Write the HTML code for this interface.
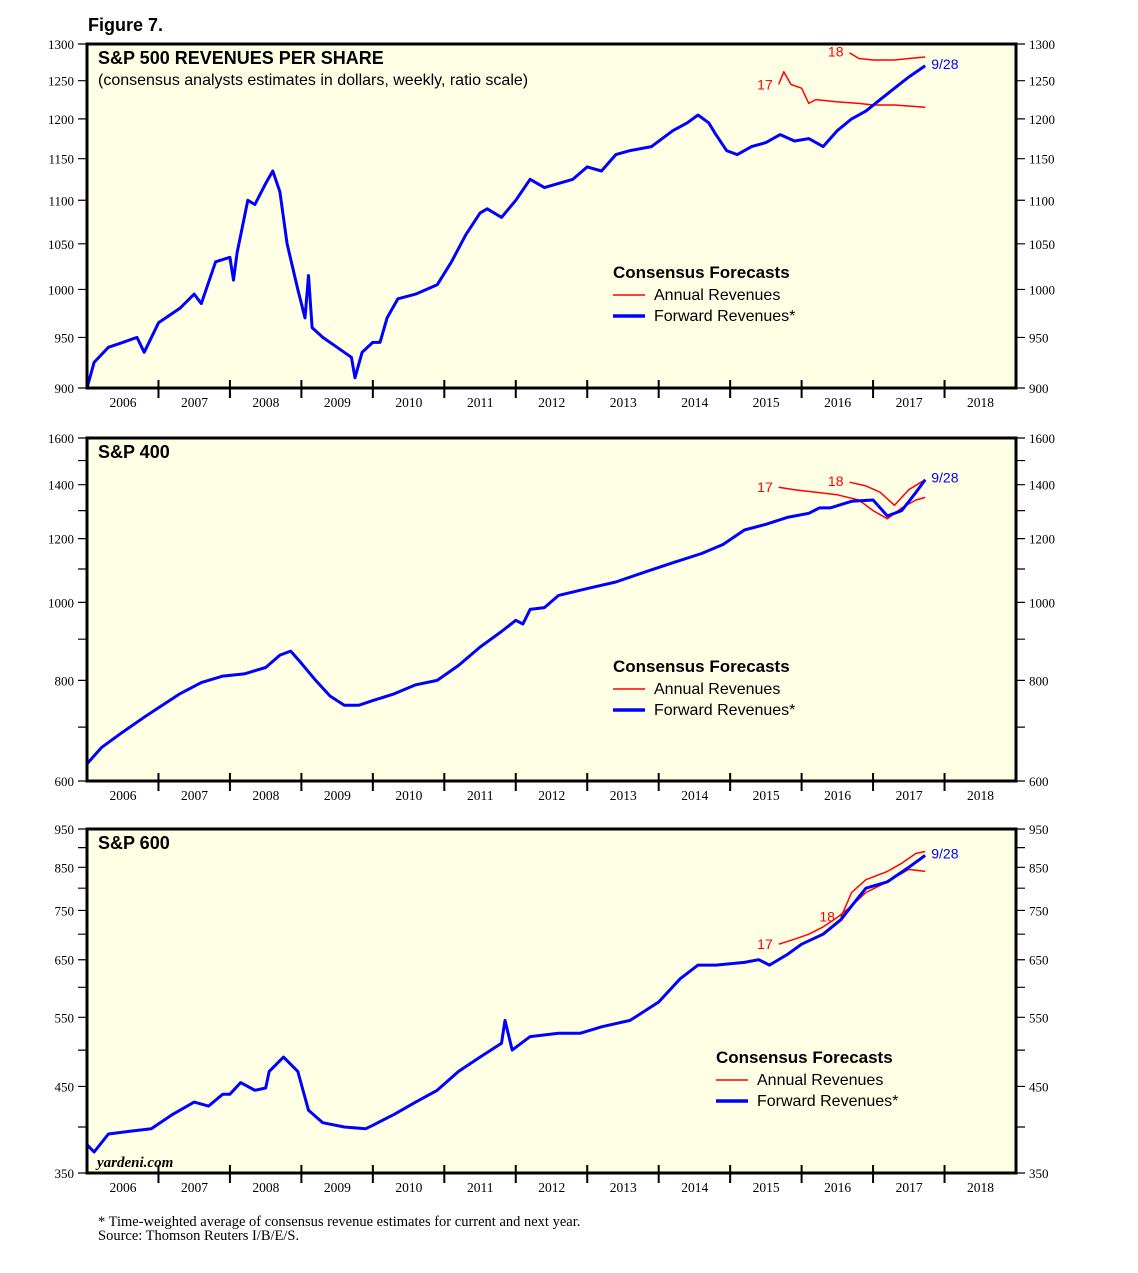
<!DOCTYPE html>
<html><head><meta charset="utf-8"><style>
body{margin:0;background:#fff;width:1138px;height:1273px;overflow:hidden}
svg{display:block}
</style></head><body>
<svg id="c" width="1138" height="1273" xmlns="http://www.w3.org/2000/svg" font-family="Liberation Sans, sans-serif">
<text x="88" y="31" font-size="18" font-weight="bold">Figure 7.</text>
<text x="98" y="1226" font-size="14.5" font-family="Liberation Serif, serif">* Time-weighted average of consensus revenue estimates for current and next year.</text>
<text x="98" y="1240" font-size="14.5" font-family="Liberation Serif, serif">Source: Thomson Reuters I/B/E/S.</text>
</svg>
<script>
const years=["2006","2007","2008","2009","2010","2011","2012","2013","2014","2015","2016","2017","2018"];
const p1Ticks=[900,950,1000,1050,1100,1150,1200,1250,1300];
const p2Ticks=[600,800,1000,1200,1400,1600];
const p2Minor=[700,900,1100,1300,1500];
const p3Ticks=[350,450,550,650,750,850,950];
const p3Minor=[400,500,600,700,800,900];
const p1FwdT=[2006.0,2006.1,2006.3,2006.5,2006.7,2006.8,2007.0,2007.3,2007.5,2007.6,2007.8,2008.0,2008.05,2008.1,2008.25,2008.35,2008.5,2008.6,2008.7,2008.8,2008.95,2009.05,2009.1,2009.15,2009.3,2009.5,2009.7,2009.75,2009.85,2010.0,2010.1,2010.2,2010.35,2010.6,2010.9,2011.1,2011.3,2011.5,2011.6,2011.8,2012.0,2012.2,2012.4,2012.6,2012.8,2013.0,2013.2,2013.4,2013.6,2013.9,2014.2,2014.4,2014.55,2014.7,2014.8,2014.95,2015.1,2015.3,2015.5,2015.7,2015.9,2016.1,2016.3,2016.5,2016.7,2016.9,2017.1,2017.3,2017.5,2017.73];
const p1FwdV=[900,925,940,945,950,935,965,980,995,985,1030,1035,1010,1040,1100,1095,1120,1135,1110,1050,1000,970,1015,960,950,940,930,910,935,945,945,970,990,995,1005,1030,1060,1085,1090,1080,1100,1125,1115,1120,1125,1140,1135,1155,1160,1165,1185,1195,1205,1195,1180,1160,1155,1165,1170,1180,1172,1175,1165,1185,1200,1210,1225,1240,1255,1270];
const p1A17T=[2015.68,2015.75,2015.85,2016.0,2016.1,2016.2,2016.5,2016.8,2017.0,2017.3,2017.73];
const p1A17V=[1245,1262,1245,1240,1220,1225,1222,1220,1218,1218,1215];
const p1A18T=[2016.67,2016.8,2017.0,2017.3,2017.5,2017.73];
const p1A18V=[1288,1280,1278,1278,1280,1282];
const p2FwdT=[2006.0,2006.2,2006.5,2006.8,2007.0,2007.3,2007.6,2007.9,2008.2,2008.5,2008.7,2008.85,2009.0,2009.2,2009.4,2009.6,2009.8,2010.0,2010.3,2010.6,2010.9,2011.2,2011.5,2011.8,2012.0,2012.1,2012.2,2012.4,2012.6,2013.0,2013.4,2013.8,2014.2,2014.6,2014.9,2015.2,2015.5,2015.8,2016.1,2016.25,2016.4,2016.7,2017.0,2017.2,2017.4,2017.6,2017.73];
const p2FwdV=[630,660,690,720,740,770,795,810,815,830,860,870,840,800,765,745,745,755,770,790,800,835,880,920,950,940,980,985,1020,1040,1060,1090,1120,1150,1180,1230,1250,1275,1290,1310,1310,1335,1340,1280,1300,1370,1420];
const p2A17T=[2015.68,2015.9,2016.2,2016.5,2016.8,2017.0,2017.2,2017.4,2017.6,2017.73];
const p2A17V=[1390,1380,1370,1360,1340,1300,1270,1310,1340,1350];
const p2A18T=[2016.67,2016.9,2017.1,2017.3,2017.5,2017.73];
const p2A18V=[1410,1395,1370,1320,1380,1420];
const p3FwdT=[2006.0,2006.1,2006.3,2006.6,2006.9,2007.2,2007.5,2007.7,2007.9,2008.0,2008.15,2008.35,2008.5,2008.55,2008.75,2008.95,2009.1,2009.3,2009.6,2009.9,2010.0,2010.3,2010.6,2010.9,2011.2,2011.5,2011.8,2011.85,2011.95,2012.2,2012.6,2012.9,2013.2,2013.6,2014.0,2014.3,2014.55,2014.8,2015.2,2015.4,2015.55,2015.8,2016.0,2016.3,2016.55,2016.7,2016.9,2017.2,2017.5,2017.73];
const p3FwdV=[380,372,392,395,398,415,430,425,440,440,455,445,448,470,490,470,420,405,400,398,402,415,430,445,470,490,510,545,500,520,525,525,535,545,575,615,640,640,645,650,640,660,680,700,730,760,800,815,850,880];
const p3A17T=[2015.68,2015.9,2016.1,2016.3,2016.5,2016.7,2016.9,2017.2,2017.5,2017.73];
const p3A17V=[680,690,700,715,735,760,790,815,845,840];
const p3A18T=[2016.55,2016.7,2016.9,2017.2,2017.4,2017.6,2017.73];
const p3A18V=[735,790,820,840,860,885,890];

const svg=document.getElementById('c');const NS='http://www.w3.org/2000/svg';
function mk(tag,at,txt){const e=document.createElementNS(NS,tag);for(const k in at)e.setAttribute(k,at[k]);if(txt!=null)e.textContent=txt;svg.appendChild(e);return e;}
const X0=87,X1=1016;
const xs=t=>X0+(t-2006)*(X1-X0)/13;
function panel(cfg){
 const {top,bot,min,max,ticks,minor,name}=cfg;
 const ys=v=>bot-(Math.log(v/min)/Math.log(max/min))*(bot-top);
 let r=mk('rect',{x:X0,y:top,width:X1-X0,height:bot-top,fill:'#ffffe6',stroke:'none'});
 
 ticks.concat(minor||[]).forEach(v=>{const y=ys(v);
  let t=mk('path',{d:`M${X0-9} ${y}H${X0}M${X1} ${y}H${X1+9}`,stroke:'#000','stroke-width':1.2});
  });
 ticks.forEach(v=>{const y=ys(v);
  let a=mk('text',{x:X0-13,y:y+5,'text-anchor':'end','font-size':13,'font-family':'Liberation Serif, serif'},v);
  
  let b=mk('text',{x:X1+13,y:y+5,'font-size':13,'font-family':'Liberation Serif, serif'},v);
  });
 years.forEach((yr,i)=>{const x=xs(2006+i);
  if(i>0){let t=mk('path',{d:`M${x} ${bot}v-8M${x} ${bot}v10`,stroke:'#000','stroke-width':2});
  }
  let l=mk('text',{x:x+36,y:bot+19,'text-anchor':'middle','font-size':13.5,'font-family':'Liberation Serif, serif'},yr);
  });
 const line=(T,V,col,w,nm)=>{let p=mk('polyline',{points:T.map((t,i)=>xs(t).toFixed(1)+','+ys(V[i]).toFixed(1)).join(' '),fill:'none',stroke:col,'stroke-width':w,'stroke-linejoin':'round'});
  return p;};
 line(cfg.a17T,cfg.a17V,'#f00',1.5,name+'-annual-2017-line');
 line(cfg.a18T,cfg.a18V,'#f00',1.5,name+'-annual-2018-line');
 line(cfg.fT,cfg.fV,'#00f',3,name+'-forward-line');
 let l17=mk('text',{x:xs(cfg.a17T[0])-6,y:ys(cfg.a17V[0])+5,'text-anchor':'end','font-size':14,fill:'#f00'},'17');
 
 let l18=mk('text',{x:xs(cfg.a18T[0])-6,y:ys(cfg.a18V[0])+4,'text-anchor':'end','font-size':14,fill:'#f00'},'18');
 
 const lt=cfg.fT.length-1;
 let ld=mk('text',{x:xs(cfg.fT[lt])+6,y:ys(cfg.fV[lt])+3,'font-size':14,fill:'#00f'},'9/28');
 
 let bd=mk('rect',{x:X0,y:top,width:X1-X0,height:bot-top,fill:'none',stroke:'#000','stroke-width':3});
 
 let tt=mk('text',{x:98,y:top+20,'font-size':18,'font-weight':'bold'},cfg.title);
 
 const lx=cfg.legX,ly=cfg.legY;
 let g1=mk('text',{x:lx,y:ly,'font-size':17,'font-weight':'bold'},'Consensus Forecasts');
 
 let g2=mk('line',{x1:lx,x2:lx+32,y1:ly+17,y2:ly+17,stroke:'#f00','stroke-width':1.5});
 
 let g3=mk('text',{x:lx+41,y:ly+22,'font-size':16},'Annual Revenues');
 
 let g4=mk('line',{x1:lx,x2:lx+32,y1:ly+38,y2:ly+38,stroke:'#00f','stroke-width':3.5});
 
 let g5=mk('text',{x:lx+41,y:ly+43,'font-size':16},'Forward Revenues*');
 
}
panel({name:'sp500',title:'S&P 500 REVENUES PER SHARE',top:44,bot:388,min:900,max:1300,ticks:p1Ticks,minor:[],fT:p1FwdT,fV:p1FwdV,a17T:p1A17T,a17V:p1A17V,a18T:p1A18T,a18V:p1A18V,legX:613,legY:278});
let sub=mk('text',{x:98,y:85,'font-size':16},'(consensus analysts estimates in dollars, weekly, ratio scale)');

panel({name:'sp400',title:'S&P 400',top:438,bot:781,min:600,max:1600,ticks:p2Ticks,minor:p2Minor,fT:p2FwdT,fV:p2FwdV,a17T:p2A17T,a17V:p2A17V,a18T:p2A18T,a18V:p2A18V,legX:613,legY:672});
panel({name:'sp600',title:'S&P 600',top:829,bot:1173,min:350,max:950,ticks:p3Ticks,minor:p3Minor,fT:p3FwdT,fV:p3FwdV,a17T:p3A17T,a17V:p3A17V,a18T:p3A18T,a18V:p3A18V,legX:716,legY:1063});
let yd=mk('text',{x:97,y:1167,'font-size':15,'font-weight':'bold','font-style':'italic','font-family':'Liberation Serif, serif'},'yardeni.com');

</script>
</body></html>
